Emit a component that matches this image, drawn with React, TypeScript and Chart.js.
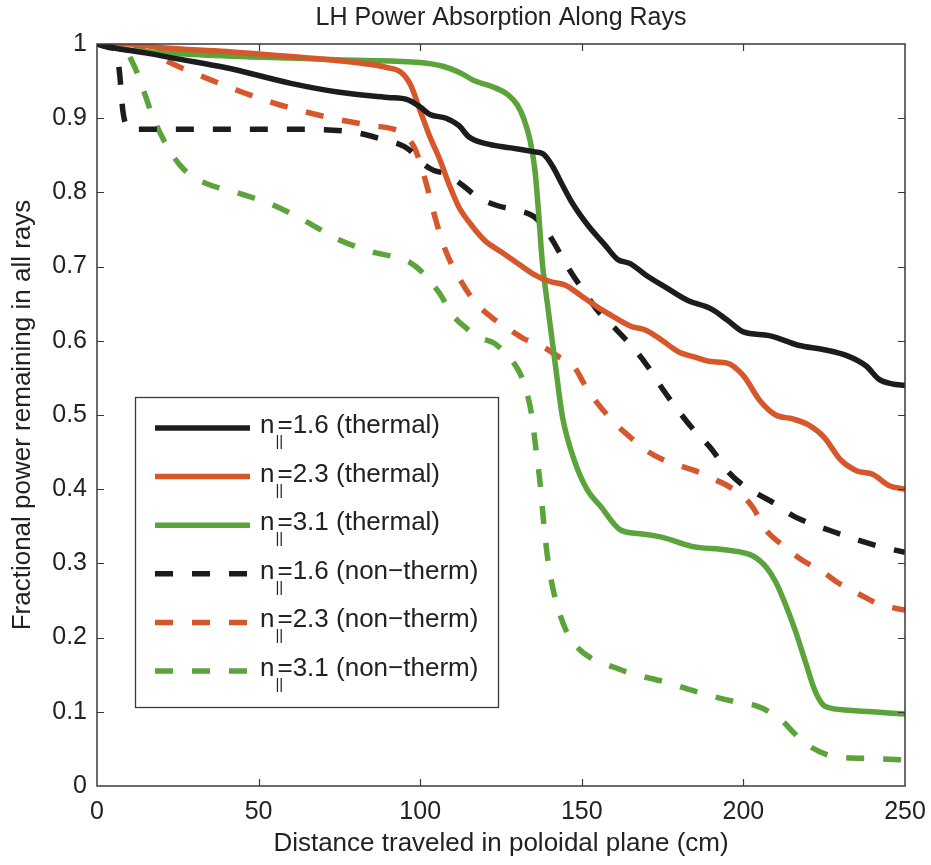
import React, { useEffect, useRef } from "react";
import { Chart, registerables } from "chart.js";

Chart.register(...registerables);

// ---------- data ----------
const thermal16X = [0, 5, 15, 25, 40, 60, 75, 90, 96, 100, 103, 108, 112, 115, 120, 128, 135, 138, 141, 144, 147, 152, 157, 161, 165, 170, 176, 183, 190, 195, 200, 208, 217, 225, 232, 238, 242, 246, 250];
const thermal16Y = [1, 0.995, 0.988, 0.98, 0.968, 0.947, 0.935, 0.928, 0.925, 0.915, 0.905, 0.9, 0.89, 0.875, 0.866, 0.86, 0.855, 0.852, 0.835, 0.81, 0.786, 0.755, 0.73, 0.71, 0.704, 0.688, 0.672, 0.654, 0.643, 0.628, 0.612, 0.607, 0.594, 0.588, 0.58, 0.566, 0.548, 0.542, 0.54];

const thermal23X = [0, 10, 20, 40, 60, 80, 90, 94, 97, 100, 103, 106, 109, 112, 116, 120, 125, 130, 135, 140, 145, 150, 155, 160, 165, 170, 175, 180, 185, 190, 195, 200, 205, 210, 215, 220, 225, 230, 235, 240, 245, 250];
const thermal23Y = [1, 1, 0.995, 0.99, 0.983, 0.975, 0.968, 0.962, 0.945, 0.91, 0.875, 0.845, 0.81, 0.78, 0.755, 0.735, 0.72, 0.705, 0.69, 0.68, 0.675, 0.66, 0.645, 0.632, 0.62, 0.614, 0.6, 0.585, 0.578, 0.572, 0.57, 0.553, 0.52, 0.5, 0.495, 0.487, 0.47, 0.44, 0.425, 0.42, 0.405, 0.4];

const thermal31X = [0, 10, 30, 60, 80, 100, 107, 112, 117, 122, 127, 130, 132, 134, 135.5, 136.5, 137.8, 139.2, 141.9, 144, 147.6, 151.7, 155.8, 162, 168, 175, 184, 195, 203, 207, 210, 213, 216, 219, 222, 224.5, 227, 230, 240, 250];
const thermal31Y = [1, 0.992, 0.986, 0.981, 0.978, 0.975, 0.97, 0.962, 0.95, 0.943, 0.932, 0.918, 0.9, 0.87, 0.83, 0.78, 0.705, 0.655, 0.565, 0.498, 0.44, 0.399, 0.377, 0.345, 0.34, 0.335, 0.323, 0.318, 0.31, 0.295, 0.275, 0.245, 0.21, 0.17, 0.13, 0.11, 0.105, 0.103, 0.1, 0.097];

const nonTherm16X = [0, 4, 6, 7, 8, 9, 10, 20, 40, 60, 78, 88, 95, 98, 100, 104, 108, 113, 118, 124, 130, 135, 138, 141, 144, 147, 151, 155, 160, 165, 170, 175, 180, 185, 190, 195, 200, 205, 210, 215, 220, 227, 235, 242, 250];
const nonTherm16Y = [1, 0.995, 0.99, 0.96, 0.91, 0.89, 0.885, 0.885, 0.885, 0.885, 0.882, 0.872, 0.862, 0.852, 0.842, 0.83, 0.825, 0.81, 0.793, 0.782, 0.776, 0.768, 0.755, 0.735, 0.712, 0.69, 0.665, 0.64, 0.618, 0.595, 0.568, 0.535, 0.505, 0.478, 0.455, 0.425, 0.405, 0.392, 0.38, 0.365, 0.355, 0.344, 0.332, 0.323, 0.315];

const nonTherm23X = [0, 10, 15, 20, 25, 35, 45, 55, 65, 75, 85, 92, 95, 98, 100, 102, 105, 108, 112, 117, 122, 127, 132, 138, 143, 147.6, 151, 155, 160, 165, 170, 175, 180, 185, 190, 195, 200, 203, 207, 212, 218, 224, 230, 236, 242, 250];
const nonTherm23Y = [1, 1, 0.99, 0.98, 0.97, 0.952, 0.935, 0.92, 0.908, 0.898, 0.89, 0.885, 0.878, 0.862, 0.84, 0.81, 0.76, 0.72, 0.685, 0.652, 0.632, 0.617, 0.603, 0.592, 0.578, 0.565, 0.54, 0.515, 0.49, 0.47, 0.452, 0.44, 0.432, 0.425, 0.415, 0.405, 0.39, 0.375, 0.345, 0.325, 0.305, 0.29, 0.272, 0.258, 0.245, 0.237];

const nonTherm31X = [0, 5, 9, 11, 13, 15, 17, 19, 22, 26, 30, 35, 43, 55, 65, 75, 85, 92, 97, 100, 103, 106, 110, 114, 118, 122.8, 126, 129, 131, 133, 134.5, 135.7, 137.2, 138.3, 139.8, 141.9, 145.5, 149, 153, 160, 165, 176, 187, 198, 204, 208, 212, 216, 220, 226, 232, 240, 250];
const nonTherm31Y = [1, 0.995, 0.99, 0.975, 0.955, 0.93, 0.905, 0.885, 0.86, 0.835, 0.82, 0.81, 0.8, 0.782, 0.76, 0.736, 0.72, 0.713, 0.705, 0.695, 0.68, 0.664, 0.635, 0.618, 0.605, 0.597, 0.585, 0.57, 0.555, 0.53, 0.5, 0.458, 0.404, 0.35, 0.296, 0.251, 0.206, 0.185, 0.172, 0.16, 0.152, 0.14, 0.125, 0.113, 0.108, 0.1, 0.088, 0.07, 0.055, 0.042, 0.038, 0.037, 0.035];

const seriesValues = ["1.6", "2.3", "3.1", "1.6", "2.3", "3.1"];
const seriesKinds = ["(thermal)", "(thermal)", "(thermal)", "(non\u2212therm)", "(non\u2212therm)", "(non\u2212therm)"];
const xTickValues = [0, 50, 100, 150, 200, 250];
const yTickValues = [0, 0.1, 0.2, 0.3, 0.4, 0.5, 0.6, 0.7, 0.8, 0.9, 1];

const chartTitle = "LH Power Absorption Along Rays";
const xAxisTitle = "Distance traveled in poloidal plane (cm)";
const yAxisTitle = "Fractional power remaining in all rays";

// ---------- styles ----------
const BLACK = "#1c1c1c";
const RED = "#d5572b";
const GREEN = "#5ba33b";
const FONT = "'Liberation Sans', Arial, Helvetica, sans-serif";
const TEXT = "#222222";
const DASH = [18, 19];

const toPts = (xs: number[], ys: number[]) => xs.map((x, i) => ({ x, y: ys[i] }));

const decorPlugin = {
  id: "decor",
  afterDraw(chart: any) {
    const { ctx, chartArea: a, scales } = chart;
    const xs = scales.x;
    const ys = scales.y;
    ctx.save();
    // frame
    ctx.strokeStyle = "#3a3a3a";
    ctx.lineWidth = 1.5;
    ctx.strokeRect(a.left, a.top, a.right - a.left, a.bottom - a.top);
    // inward ticks
    ctx.lineWidth = 1.2;
    const tl = 7;
    ctx.beginPath();
    xTickValues.slice(1, -1).forEach((v) => {
      const px = Math.round(xs.getPixelForValue(v)) + 0.5;
      ctx.moveTo(px, a.bottom);
      ctx.lineTo(px, a.bottom - tl);
      ctx.moveTo(px, a.top);
      ctx.lineTo(px, a.top + tl);
    });
    yTickValues.slice(1, -1).forEach((v) => {
      const py = Math.round(ys.getPixelForValue(v)) + 0.5;
      ctx.moveTo(a.left, py);
      ctx.lineTo(a.left + tl, py);
      ctx.moveTo(a.right, py);
      ctx.lineTo(a.right - tl, py);
    });
    ctx.stroke();

    // titles
    ctx.fillStyle = TEXT;
    ctx.textAlign = "center";
    ctx.textBaseline = "middle";
    ctx.font = `25px ${FONT}`;
    ctx.fillText(chartTitle, (a.left + a.right) / 2, 18);
    ctx.font = `26px ${FONT}`;
    ctx.fillText(xAxisTitle, (a.left + a.right) / 2, 844);
    ctx.save();
    ctx.translate(23, (a.top + a.bottom) / 2);
    ctx.rotate(-Math.PI / 2);
    ctx.fillText(yAxisTitle, 0, 0);
    ctx.restore();

    // legend
    const bx = 135, by = 397, bw = 363, bh = 310;
    ctx.fillStyle = "#ffffff";
    ctx.fillRect(bx, by, bw, bh);
    ctx.strokeStyle = "#3a3a3a";
    ctx.lineWidth = 1.3;
    ctx.strokeRect(bx + 0.5, by + 0.5, bw, bh);
    const ds = chart.data.datasets;
    for (let i = 0; i < ds.length; i++) {
      const base = 433 + i * 48.6;
      const cy = base - 5;
      ctx.strokeStyle = ds[i].borderColor;
      ctx.lineWidth = 5.5;
      ctx.lineCap = "butt";
      ctx.setLineDash(ds[i].borderDash || []);
      ctx.beginPath();
      ctx.moveTo(155, cy);
      ctx.lineTo(250, cy);
      ctx.stroke();
      ctx.setLineDash([]);
      ctx.fillStyle = TEXT;
      ctx.textAlign = "left";
      ctx.textBaseline = "alphabetic";
      ctx.font = `26px ${FONT}`;
      const tx = 260;
      ctx.fillText("n", tx, base);
      const nw = ctx.measureText("n").width;
      ctx.font = `15px ${FONT}`;
      ctx.fillText("||", tx + nw + 1, base + 13);
      ctx.font = `26px ${FONT}`;
      ctx.fillText("=" + seriesValues[i] + " " + seriesKinds[i], tx + nw + 3, base);
    }
    ctx.restore();
  },
};

function makeDataset(label: string, xs: number[], ys: number[], color: string, dashed: boolean) {
  return {
    label,
    data: toPts(xs, ys),
    borderColor: color,
    backgroundColor: color,
    borderWidth: 5.5,
    borderDash: dashed ? DASH : [],
    borderCapStyle: "butt",
    borderJoinStyle: "round",
    pointRadius: 0,
    fill: false,
    tension: 0,
    cubicInterpolationMode: "monotone",
  };
}

const fmt = (v: number) => String(Number(v.toFixed(1)));

export default function App() {
  const canvasRef = useRef<HTMLCanvasElement | null>(null);
  useEffect(() => {
    const canvas = canvasRef.current;
    if (!canvas) return;
    const chart = new Chart(canvas, {
      type: "line",
      data: {
        datasets: [
          makeDataset("n||=1.6 (thermal)", thermal16X, thermal16Y, BLACK, false),
          makeDataset("n||=2.3 (thermal)", thermal23X, thermal23Y, RED, false),
          makeDataset("n||=3.1 (thermal)", thermal31X, thermal31Y, GREEN, false),
          makeDataset("n||=1.6 (non-therm)", nonTherm16X, nonTherm16Y, BLACK, true),
          makeDataset("n||=2.3 (non-therm)", nonTherm23X, nonTherm23Y, RED, true),
          makeDataset("n||=3.1 (non-therm)", nonTherm31X, nonTherm31Y, GREEN, true),
        ] as any,
      },
      options: {
        animation: false,
        responsive: false,
        maintainAspectRatio: false,
        layout: { padding: { left: 0, right: 26, top: 44, bottom: 0 } },
        plugins: {
          legend: { display: false },
          title: { display: false },
          tooltip: { enabled: false },
        },
        scales: {
          x: {
            type: "linear",
            min: 0,
            max: 250,
            afterBuildTicks: (s: any) => {
              s.ticks = xTickValues.map((v) => ({ value: v }));
            },
            afterFit: (s: any) => {
              s.height = 79;
              s.paddingLeft = 0;
              s.paddingRight = 0;
            },
            ticks: { color: TEXT, font: { family: FONT, size: 25 }, padding: 11, maxRotation: 0, callback: (v: any) => fmt(Number(v)) },
            grid: { display: false, drawTicks: false },
            border: { display: false },
          },
          y: {
            type: "linear",
            min: 0,
            max: 1,
            afterBuildTicks: (s: any) => {
              s.ticks = yTickValues.map((v) => ({ value: v }));
            },
            afterFit: (s: any) => {
              s.width = 97;
              s.paddingTop = 0;
              s.paddingBottom = 0;
            },
            ticks: { color: TEXT, font: { family: FONT, size: 25 }, padding: 10, callback: (v: any) => fmt(Number(v)) },
            grid: { display: false, drawTicks: false },
            border: { display: false },
          },
        },
      },
      plugins: [decorPlugin],
    });
    return () => chart.destroy();
  }, []);

  return (
    <div style={{ position: "fixed", left: 0, top: 0, width: 931, height: 865, background: "#ffffff" }}>
      <canvas ref={canvasRef} width={931} height={865} style={{ width: 931, height: 865, display: "block" }} />
    </div>
  );
}
